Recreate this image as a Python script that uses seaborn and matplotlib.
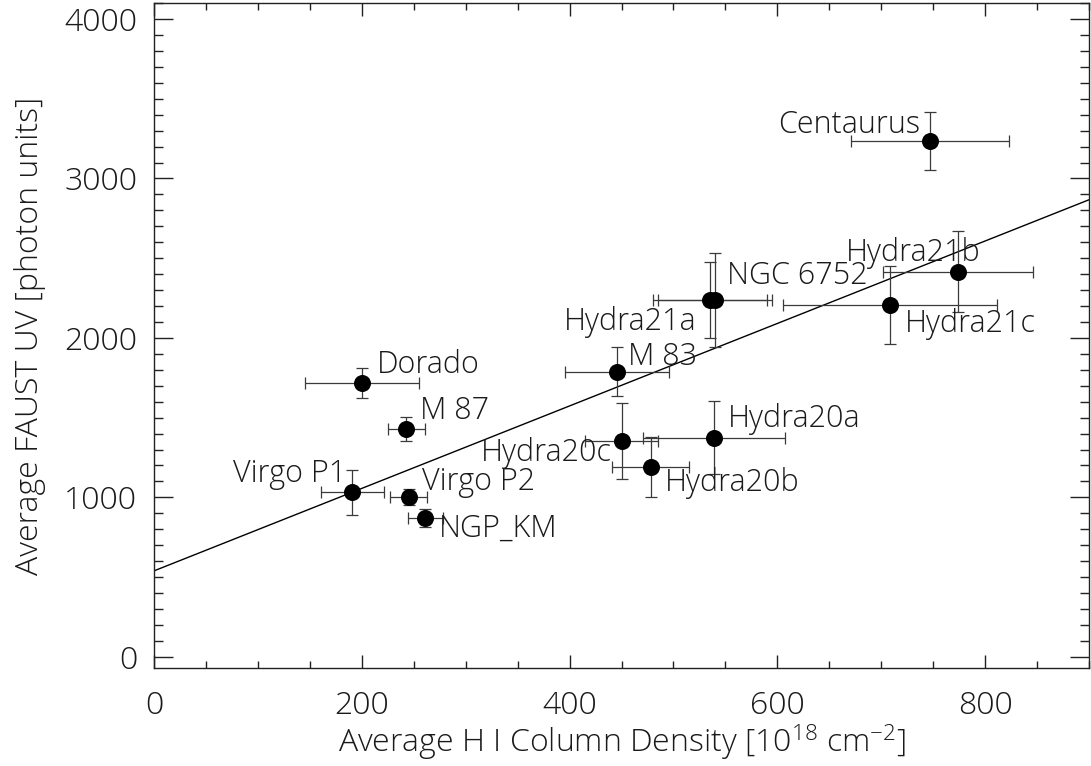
import numpy as np
import pandas as pd
import matplotlib
matplotlib.use("Agg")
import matplotlib.pyplot as plt
import seaborn as sns
from matplotlib.ticker import MultipleLocator

# ---- data ----
names = ["Centaurus", "Hydra21b", "Hydra21c", "NGC 6752", "Hydra21a", "M 83",
         "Hydra20a", "Hydra20c", "Hydra20b", "Dorado", "M 87", "Virgo P1",
         "Virgo P2", "NGP_KM"]
hi = [747, 774, 708, 540, 535, 446, 539, 450, 478, 200, 243, 191, 245, 261]
hi_err = [76, 72, 103, 55, 55, 50, 68, 35, 37, 55, 18, 30, 18, 17]
uv = [3235, 2414, 2208, 2238, 2238, 1788, 1374, 1354, 1191, 1718, 1427, 1031, 1001, 870]
uv_err = [179, 254, 244, 295, 241, 153, 229, 238, 188, 94, 76, 141, 50, 56]
fit_intercept = 539.0
fit_slope = 2.586
x_ticks = [0, 200, 400, 600, 800]
y_ticks = [0, 1000, 2000, 3000, 4000]

df = pd.DataFrame({"name": names, "hi": hi, "hi_err": hi_err, "uv": uv, "uv_err": uv_err})

# ---- style ----
sns.set_theme(style="ticks")
FONT = ["Open Sans", "DejaVu Sans"]
plt.rcParams["font.family"] = FONT
plt.rcParams["font.weight"] = "light"
plt.rcParams["mathtext.fontset"] = "custom"
plt.rcParams["mathtext.rm"] = "Open Sans:light"
plt.rcParams["mathtext.it"] = "Open Sans:light"
TXT = "#1a1a1a"
FS = 22
FS_AX = 23

fig = plt.figure(figsize=(10.91, 7.66), dpi=100)
ax = fig.add_axes([0.1412, 0.128, 0.857, 0.868])

# fit line
xl = np.array([0, 900])
fit_df = pd.DataFrame({"x": xl, "y": fit_intercept + fit_slope * xl})
sns.lineplot(data=fit_df, x="x", y="y", ax=ax, color="black", linewidth=1.0)

# error bars
ax.errorbar(df["hi"], df["uv"], xerr=df["hi_err"], yerr=df["uv_err"], fmt="none",
            ecolor="#3a3a3a", elinewidth=0.9, capsize=4, capthick=0.9, zorder=2)

# points
sns.scatterplot(data=df, x="hi", y="uv", ax=ax, color="black", s=150,
                edgecolor="black", linewidth=0, zorder=3)

# labels (offsets in pixels, ha)
offs = {
    "Centaurus": (-10, 19, "right"),
    "Hydra21b": (22, 22, "right"),
    "Hydra21c": (15, -16, "left"),
    "NGC 6752": (12, 27, "left"),
    "Hydra21a": (-13, -19, "right"),
    "M 83": (11, 18, "left"),
    "Hydra20a": (14, 22, "left"),
    "Hydra20c": (-10, -9, "right"),
    "Hydra20b": (14, -13, "left"),
    "Dorado": (15, 21, "left"),
    "M 87": (14, 21, "left"),
    "Virgo P1": (-6, 21, "right"),
    "Virgo P2": (13, 18, "left"),
    "NGP_KM": (14, -8, "left"),
}
for n, x, y in zip(names, hi, uv):
    dx, dy, ha = offs[n]
    ax.annotate(n, (x, y), xytext=(dx * 0.72, (dy - 11) * 0.72), textcoords="offset points",
                ha=ha, va="baseline", fontsize=FS, color=TXT, fontweight="light")

ax.set_xlim(0, 900)
ax.set_ylim(-70, 4100)
ax.set_xticks(x_ticks)
ax.set_yticks(y_ticks)
ax.xaxis.set_minor_locator(MultipleLocator(50))
ax.yaxis.set_minor_locator(MultipleLocator(100))
ax.tick_params(which="both", direction="in", top=True, right=True, color="#222222", width=1.0)
ax.tick_params(axis="x", which="major", length=9.5, pad=16, labelsize=FS_AX, labelcolor=TXT)
ax.tick_params(axis="x", which="minor", length=4.8)
ax.tick_params(axis="y", which="major", length=13.5, pad=12, labelsize=FS_AX, labelcolor=TXT)
ax.tick_params(axis="y", which="minor", length=6.8)
for s in ax.spines.values():
    s.set_color("#222222")
    s.set_linewidth(1.0)

ax.set_xlabel("Average H I Column Density [10$^{18}$ cm$^{-2}$]", fontsize=FS_AX, color=TXT,
              labelpad=0, fontweight="light")
ax.set_ylabel("Average FAUST UV [photon units]", fontsize=FS_AX, color=TXT, labelpad=13,
              fontweight="light")

fig.savefig("out.png", dpi=100)
